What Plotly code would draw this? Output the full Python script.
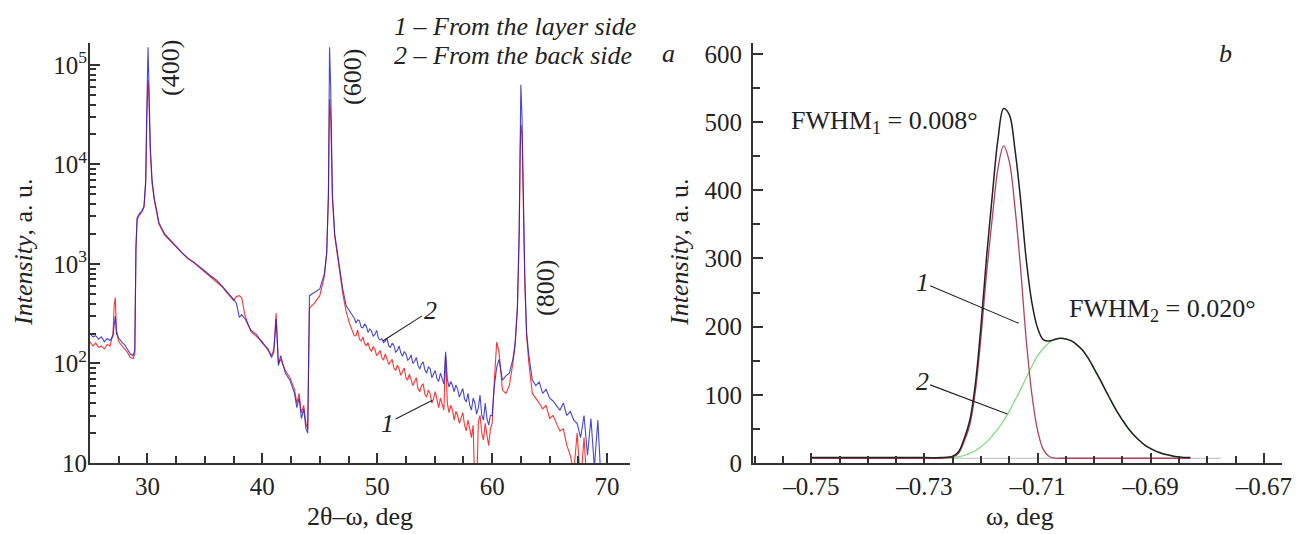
import plotly.graph_objects as go

# ---------------- Panel a: 2theta-omega scans ----------------
two_theta = [
    25.0, 25.25, 25.5, 25.75, 26.0, 26.25, 26.5, 26.75, 27.0, 27.1, 27.2, 27.3, 27.5, 27.75, 28.0, 28.25, 28.5, 28.75, 28.9,
    29.0, 29.1, 29.3, 29.5, 29.7, 29.85, 29.95, 30.0, 30.05, 30.1, 30.15, 30.25, 30.4, 30.6, 30.8,
    31.0, 31.5, 32.0, 32.5, 33.0, 33.5, 34.0, 34.5, 35.0, 35.5, 36.0, 36.5, 37.0, 37.5, 37.75, 38.0, 38.2, 38.5,
    39.0, 39.5, 40.0, 40.5, 40.8, 41.0, 41.2, 41.4, 41.6, 42.0, 42.4, 42.8, 43.0, 43.2, 43.4, 43.6, 43.8, 43.95,
    44.1, 44.5, 45.0, 45.4, 45.6, 45.75, 45.85, 45.95, 46.1, 46.3, 46.6, 47.0, 47.3, 47.6, 48.0,
    48.15, 48.3, 48.45, 48.6, 48.75, 48.9, 49.05, 49.2, 49.35, 49.5, 49.65, 49.8, 49.95, 50.1, 50.25, 50.4, 50.55, 50.7, 50.85, 51.0,
    51.15, 51.3, 51.45, 51.6, 51.75, 51.9, 52.05, 52.2, 52.35, 52.5, 52.65, 52.8, 52.95, 53.1, 53.25, 53.4, 53.55, 53.7, 53.85, 54.0,
    54.15, 54.3, 54.45, 54.6, 54.75, 54.9, 55.05, 55.2, 55.35, 55.5, 55.65, 55.8, 55.95, 56.1, 56.25, 56.4, 56.55, 56.7, 56.85, 57.0,
    57.15, 57.3, 57.45, 57.6, 57.75, 57.9, 58.05, 58.2, 58.35, 58.5, 58.65, 58.8, 58.95, 59.1, 59.25, 59.4, 59.55, 59.7, 59.85,
    60.0, 60.2, 60.4, 60.6, 60.9, 61.2, 61.5, 61.8, 62.0, 62.2, 62.35, 62.45, 62.5, 62.6, 62.7, 62.85, 63.0, 63.2, 63.5,
    63.8, 64.1, 64.4, 64.7, 65.0, 65.3, 65.6, 65.9, 66.2, 66.5, 66.8, 67.1, 67.4, 67.7, 68.0, 68.3, 68.6, 68.9,
    69.2, 69.4, 69.5,
]

# curve 2: from the back side (blue)
back_side = [
    200, 185, 190, 175, 185, 165, 178, 170, 190, 250, 300, 200, 180, 165, 155, 140, 125, 120, 135,
    1500, 2900, 3200, 3400, 3800, 7000, 40000, 150000, 150000, 90000, 40000, 15000, 7000, 4500, 3500,
    2600, 2000, 1750, 1500, 1300, 1150, 1050, 950, 850, 760, 690, 600, 520, 440, 400, 290, 310, 280,
    216, 195, 160, 140, 115, 130, 280, 95, 120, 80, 68, 50, 36, 45, 28, 35, 22, 20,
    480, 510, 560, 800, 1300, 5000, 150000, 60000, 5000, 2000, 1180, 560, 380, 340, 285,
    255, 275, 268, 232, 228, 250, 236, 205, 222, 212, 188, 196, 215, 180, 172, 178, 162, 168, 180, 150,
    145, 160, 152, 130, 135, 150, 128, 118, 132, 125, 108, 112, 122, 100, 104, 115, 96, 88, 99, 104,
    86, 80, 92, 89, 72, 78, 85, 70, 66, 80, 72, 62, 131, 70, 58, 66, 60, 52, 61, 55,
    46, 50, 56, 44, 41, 50, 38, 34, 45, 40, 31, 36, 48, 30, 27, 40, 28, 24, 30,
    30, 60, 92, 110, 68, 75, 80, 109, 160, 370, 2000, 20000, 63000, 30000, 5000, 700, 205, 120, 68,
    60, 65, 50, 55, 45, 42, 38, 34, 40, 30, 33, 27, 25, 18, 30, 12, 28, 9,
    27, 9, 6,
]

# curve 1: from the layer side (red)
layer_side = [
    165, 150, 160, 145, 150, 140, 155, 150, 200, 380, 460, 220, 165, 150, 140, 130, 115, 112, 125,
    1400, 2800, 3100, 3300, 3700, 6500, 30000, 65000, 70000, 60000, 30000, 13000, 6500, 4300, 3300,
    2500, 1950, 1700, 1480, 1280, 1130, 1040, 930, 830, 750, 670, 590, 500, 430, 470, 480, 460, 300,
    210, 185, 165, 135, 120, 140, 320, 100, 110, 85, 72, 55, 40, 50, 32, 38, 25, 22,
    360, 400, 480, 750, 1250, 4500, 45000, 30000, 4500, 1900, 1100, 500, 330, 250, 190,
    190, 217, 175, 168, 185, 160, 150, 162, 140, 132, 148, 138, 120, 126, 135, 115, 108, 125, 112, 98,
    104, 110, 90, 85, 96, 88, 76, 82, 90, 72, 68, 78, 70, 60, 66, 72, 56, 52, 60, 62,
    49, 46, 54, 50, 40, 44, 52, 42, 36, 45, 40, 34, 120, 40, 32, 38, 34, 27, 33, 30,
    25, 29, 32, 24, 21, 27, 22, 18, 24, 5, 5, 26, 30, 20, 17, 25, 19, 15, 22,
    25, 70, 164, 130, 54, 50, 60, 100, 150, 350, 1800, 15000, 25000, 20000, 4000, 600, 190, 100, 50,
    45, 40, 35, 38, 28, 30, 25, 21, 22, 15, 12, 8, 20, 6, 18, 5, 5, 5,
    5, 5, 5,
]

assert len(two_theta) == len(back_side) == len(layer_side)

log_ticks = [10, 100, 1000, 10000, 100000]
log_tick_text = ["10", "10<sup>2</sup>", "10<sup>3</sup>", "10<sup>4</sup>", "10<sup>5</sup>"]
log_minor = [m * d for d in (10, 100, 1000, 10000) for m in range(2, 10)] + [200000]

# ---------------- Panel b: rocking curve ----------------
omega = [-0.750, -0.740, -0.730, -0.727,
         -0.725, -0.724, -0.723, -0.722, -0.721, -0.720, -0.719, -0.718, -0.717, -0.716,
         -0.715, -0.714, -0.713, -0.712, -0.711, -0.710, -0.709, -0.708, -0.707, -0.706,
         -0.705, -0.704, -0.703, -0.702, -0.701, -0.700, -0.699, -0.698, -0.697, -0.696,
         -0.695, -0.694, -0.693, -0.692, -0.691, -0.690, -0.689, -0.688, -0.687, -0.686,
         -0.685, -0.684, -0.683]
peak1 = [7, 7, 7, 7,
         9, 14, 31, 55, 105, 185, 280, 360, 432, 465,
         442, 375, 285, 180, 100, 48, 20, 10, 7, 7,
         7, 7, 7, 7, 7, 7, 7, 7, 7, 7,
         7, 7, 7, 7, 7, 7, 7, 7, 7, 7,
         7, 7, 7]
peak2 = [7, 7, 7, 7,
         8, 9, 11, 14, 18, 24, 31, 40, 50, 62,
         76, 92, 108, 125, 142, 157, 168, 176, 181, 183,
         182, 179, 173, 165, 153, 138, 123, 107, 91, 76,
         63, 51, 41, 33, 26, 21, 17, 14, 12, 10,
         9, 8, 8]
total = [8, 8, 8, 8,
         10, 16, 35, 62, 116, 202, 304, 393, 475, 520,
         511, 460, 386, 298, 235, 198, 181, 179, 181, 183,
         182, 179, 173, 165, 153, 138, 123, 107, 91, 76,
         63, 51, 41, 33, 26, 21, 17, 14, 12, 10,
         9, 8, 8]
baseline_x = [-0.750, -0.6776]
baseline_y = [7, 7]
assert len(omega) == len(peak1) == len(peak2) == len(total)

omega_ticks = [-0.75, -0.73, -0.71, -0.69, -0.67]
omega_tick_text = ["\u20130.75", "\u20130.73", "\u20130.71", "\u20130.69", "\u20130.67"]

# ---------------- figure ----------------
W, H = 1302, 534
FONT = "Liberation Serif"
TXT = "#222222"
AX = "#333333"

fig = go.Figure()
fig.add_trace(go.Scatter(x=two_theta, y=layer_side, mode="lines", xaxis="x", yaxis="y",
                         line=dict(color="#ff1e1e", width=1.1), opacity=0.9, showlegend=False))
fig.add_trace(go.Scatter(x=two_theta, y=back_side, mode="lines", xaxis="x", yaxis="y",
                         line=dict(color="#1a1acc", width=1.1), opacity=0.8, showlegend=False))

fig.add_trace(go.Scatter(x=baseline_x, y=baseline_y, mode="lines", xaxis="x2", yaxis="y2",
                         line=dict(color="#bbbbbb", width=1.2), showlegend=False))
fig.add_trace(go.Scatter(x=omega, y=peak2, mode="lines", xaxis="x2", yaxis="y2", line_shape="spline",
                         line=dict(color="#7fdc7f", width=1.3), showlegend=False))
fig.add_trace(go.Scatter(x=omega, y=peak1, mode="lines", xaxis="x2", yaxis="y2", line_shape="spline",
                         line=dict(color="#b8405a", width=1.3), showlegend=False))
fig.add_trace(go.Scatter(x=omega, y=total, mode="lines", xaxis="x2", yaxis="y2", line_shape="spline",
                         line=dict(color="#222222", width=1.5), showlegend=False))


def px(xp):
    return xp / W


def py(yp):
    return (H - yp) / H


ydom = [py(463), py(43)]
axis_common = dict(showline=True, linecolor=AX, linewidth=2, ticks="inside", ticklen=10,
                   tickwidth=1.5, tickcolor=AX, showgrid=False, zeroline=False,
                   tickfont=dict(family=FONT, size=25, color=TXT), automargin=False)

fig.update_layout(
    width=W, height=H, margin=dict(l=0, r=0, t=0, b=0),
    paper_bgcolor="white", plot_bgcolor="white",
    font=dict(family=FONT, size=25, color=TXT),
    xaxis=dict(domain=[px(90), px(630)], range=[25, 72], anchor="y",
               tickvals=[30, 40, 50, 60, 70], ticklabelstandoff=0,
               minor=dict(ticks="inside", ticklen=7, tickwidth=1.5, tickcolor=AX, dtick=2.5, tick0=25),
               **axis_common),
    yaxis=dict(domain=ydom, type="log", range=[1, 5.22], anchor="x",
               tickvals=log_ticks, ticktext=log_tick_text, ticklabelstandoff=-4,
               minor=dict(ticks="inside", ticklen=6, tickwidth=1.5, tickcolor=AX, tickvals=log_minor),
               **axis_common),
    xaxis2=dict(domain=[px(753), px(1282)], range=[-0.7603, -0.6668], anchor="y2",
                tickvals=omega_ticks, ticktext=omega_tick_text, ticklabelstandoff=0,
                minor=dict(ticks="inside", ticklen=7, tickwidth=1.5, tickcolor=AX, dtick=0.005, tick0=-0.75),
                **axis_common),
    yaxis2=dict(domain=ydom, range=[0, 616], anchor="x2",
                tickvals=[0, 100, 200, 300, 400, 500, 600], ticklabelstandoff=4,
                minor=dict(ticks="inside", ticklen=7, tickwidth=1.5, tickcolor=AX, dtick=50, tick0=0),
                **axis_common),
)

ann = []


def text(xp, yp, s, size=26, angle=0, xanchor="center", yanchor="middle", italic=False):
    ann.append(dict(xref="paper", yref="paper", x=px(xp), y=py(yp), text=(f"<i>{s}</i>" if italic else s),
                    showarrow=False, textangle=angle, xanchor=xanchor, yanchor=yanchor,
                    font=dict(family=FONT, size=size, color=TXT)))


# axis titles
text(360, 516, "2\u03b8\u2013\u03c9, deg")
text(1020, 516, "\u03c9, deg")
text(23, 252, "<i>Intensity</i>, a. u.", angle=-90)
text(679, 252, "<i>Intensity</i>, a. u.", angle=-90)

# legend-like labels and panel letters
text(392, 26, "1 \u2013 From the layer side", xanchor="left", italic=True)
text(392, 55, "2 \u2013 From the back side", xanchor="left", italic=True)
text(668, 53, "a", italic=True)
text(1225, 53, "b", italic=True)

# reflection labels
text(171, 68, "(400)", angle=-90)
text(352, 77, "(600)", angle=-90)
text(545, 288, "(800)", angle=-90)

# FWHM labels
text(884, 122, "FWHM<sub>1</sub> = 0.008\u00b0")
text(1162, 310, "FWHM<sub>2</sub> = 0.020\u00b0")


def pointer(xref, yref, tip_x, tip_y, lab_x, lab_y, label):
    ann.append(dict(xref=xref, yref=yref, x=tip_x, y=tip_y, axref=xref, ayref=yref, ax=lab_x, ay=lab_y,
                    text=f"<i>{label}</i>", showarrow=True, arrowhead=0, arrowwidth=1.1, arrowcolor="#222",
                    standoff=0, font=dict(family=FONT, size=26, color=TXT)))


# panel a pointers (log axis -> log10 coordinates)
pointer("x", "y", 50.48, 2.226, 54.6, 2.53, "2")
pointer("x", "y", 54.8, 1.63, 50.9, 1.40, "1")
# panel b pointers
pointer("x2", "y2", -0.71336, 205, -0.7304, 265, "1")
pointer("x2", "y2", -0.71536, 72, -0.7304, 119, "2")

fig.update_layout(annotations=ann)
fig.write_html("out.html", config={"displayModeBar": False},
               post_script="document.body.style.margin='0px';document.body.style.padding='0px';")
